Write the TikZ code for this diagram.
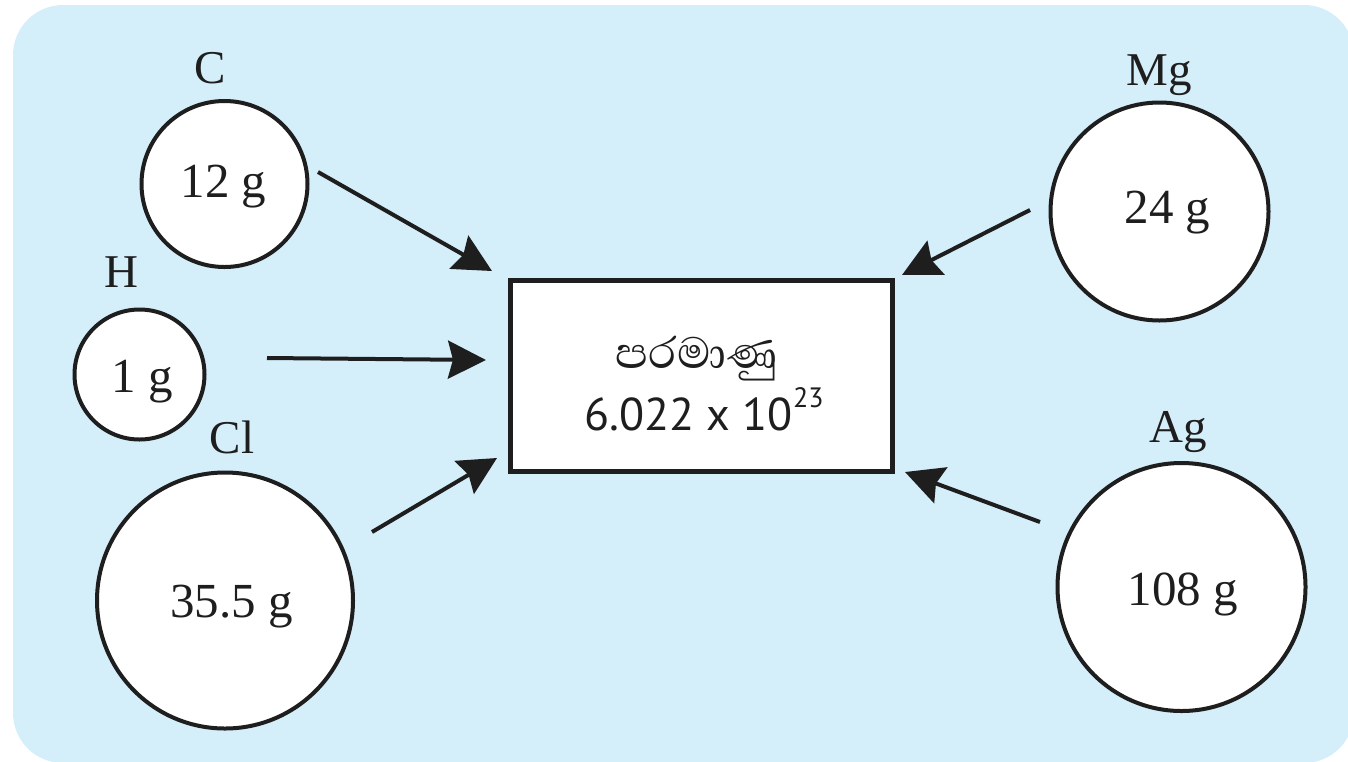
\documentclass[tikz,border=0pt]{standalone}
\usepackage{fontspec}
\setmainfont{Liberation Serif}
\newfontfamily\sinfont[Script=Sinhala]{Abhaya Libre}
\newfontfamily\numfont{PT Sans}
\usetikzlibrary{arrows.meta}
\definecolor{bgblue}{RGB}{212,238,250}
\definecolor{ink}{RGB}{30,30,30}
\begin{document}
\begin{tikzpicture}[x=0.5pt,y=-0.5pt,
  atom/.style={circle, draw=ink, line width=2pt, fill=white, inner sep=0pt},
  elem/.style={anchor=base, inner sep=0pt, font=\fontsize{23.5pt}{28pt}\selectfont, text=ink},
  mass/.style={anchor=base, inner sep=0pt, font=\fontsize{24.5pt}{29pt}\selectfont, text=ink},
  conn/.style={draw=ink, line width=2pt, -{Stealth[length=19pt,width=19pt,inset=2.5pt]}},
  boxtext/.style={anchor=base, inner sep=0pt, text=ink},
]
\useasboundingbox (0,0) rectangle (1348,761);
\fill[bgblue, rounded corners=25pt] (13,5) rectangle (1354,763);

% central box
\node[draw=ink, line width=2.5pt, fill=white, minimum width=191pt, minimum height=95.75pt, inner sep=0pt] (box) at (701.5,375.75) {};
\node[boxtext, font=\sinfont\fontsize{28pt}{32pt}\selectfont] (sin) at (697,368) {පරමාණු};
\node[boxtext, font=\numfont\fontsize{23pt}{27pt}\selectfont] (num) at (704,430) {6.022 x 10\raisebox{0.5em}{\fontsize{14pt}{16pt}\selectfont 23}};

% atoms
\node[atom, minimum size=83pt] (cC) at (224.5,184) {};
\node[atom, minimum size=65pt] (cH) at (139.5,374.5) {};
\node[atom, minimum size=128pt] (cCl) at (225,600.5) {};
\node[atom, minimum size=109pt] (cMg) at (1159.5,211.5) {};
\node[atom, minimum size=124pt] (cAg) at (1181.5,587) {};

% element labels
\node[elem] (lC) at (210,83) {C};
\node[elem] (lH) at (121,287) {H};
\node[elem] (lCl) at (232,453) {Cl};
\node[elem] (lMg) at (1159,85) {Mg};
\node[elem] (lAg) at (1178,442) {Ag};

% masses
\node[mass] (mC) at (223.5,197) {12 g};
\node[mass] (mH) at (142.5,392) {1 g};
\node[mass] (mCl) at (231.5,617) {35.5 g};
\node[mass] (mMg) at (1167.5,223) {24 g};
\node[mass] (mAg) at (1183,605) {108 g};

% connector end points
\coordinate (sC) at (318,172);  \coordinate (tC) at (492,271);
\coordinate (sH) at (267,358);  \coordinate (tH) at (486,360);
\coordinate (sCl) at (372,532); \coordinate (tCl) at (497,458);
\coordinate (sMg) at (1030,210); \coordinate (tMg) at (902,275);
\coordinate (sAg) at (1040,522); \coordinate (tAg) at (905,472);

\draw[conn] (sC) -- (tC);
\draw[conn] (sH) -- (tH);
\draw[conn] (sCl) -- (tCl);
\draw[conn] (sMg) -- (tMg);
\draw[conn] (sAg) -- (tAg);
\end{tikzpicture}
\end{document}
